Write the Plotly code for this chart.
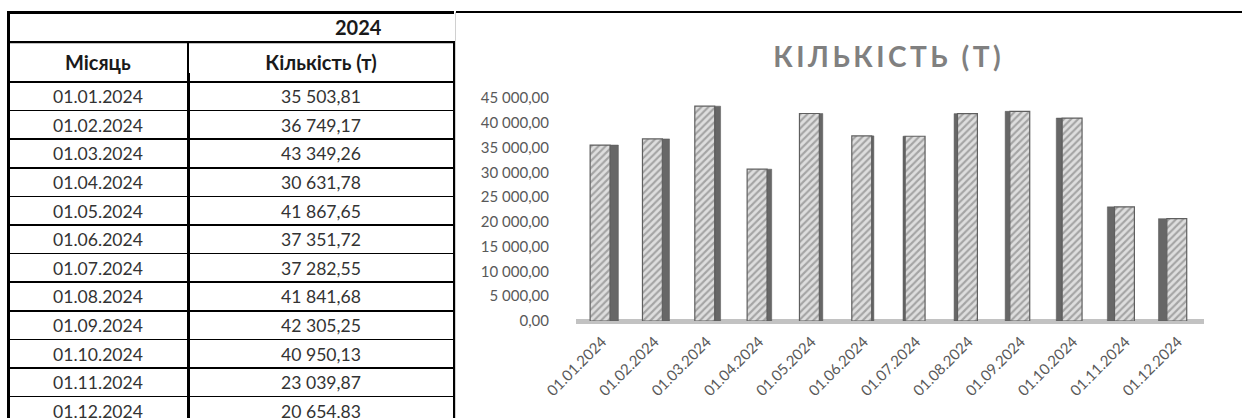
import plotly.graph_objects as go

# ---- data ----
months = ["01.01.2024", "01.02.2024", "01.03.2024", "01.04.2024", "01.05.2024", "01.06.2024",
          "01.07.2024", "01.08.2024", "01.09.2024", "01.10.2024", "01.11.2024", "01.12.2024"]
quantities = [35503.81, 36749.17, 43349.26, 30631.78, 41867.65, 37351.72,
              37282.55, 41841.68, 42305.25, 40950.13, 23039.87, 20654.83]
year_label = "2024"
col_headers = ["Місяць", "Кількість (т)"]
chart_title = "КІЛЬКІСТЬ (Т)"

W, H = 1242, 418

def px_x(p):
    return p / W

def px_y(p):
    return 1 - p / H

def fmt(v):
    return f"{v:,.2f}".replace(",", " ").replace(".", ",")

fig = go.Figure()

# ---- table ----
fig.add_trace(go.Table(
    domain=dict(x=[px_x(8), px_x(454)], y=[0, px_y(42)]),
    columnwidth=[180, 266],
    header=dict(values=[f"<b>{h}</b>" for h in col_headers],
                height=31, align="center", fill_color="white",
                line=dict(color="black", width=1.5),
                font=dict(family="Lato", size=20, color="#1a1a1a")),
    cells=dict(values=[months, [fmt(v) for v in quantities]],
               height=28.6, align="center", fill_color="white",
               line=dict(color="black", width=1.5),
               font=dict(family="Lato", size=17.6, color="#333333")),
))

# ---- 3D-looking bars ----
n = len(months)
mid = (n - 1) / 2
front_w = 0.38
side_w = [0.03 + 0.13 * abs(i - mid) / mid for i in range(n)]
side_off = [front_w / 2 - 0.04 if i < mid else -front_w / 2 - side_w[i] - 0.02 for i in range(n)]
front_off = [-front_w / 2 - 0.04 if i < mid else -front_w / 2 - 0.02 for i in range(n)]

fig.add_trace(go.Bar(
    x=months, y=quantities, width=side_w, offset=side_off,
    marker=dict(color="#676767", line=dict(color="#555555", width=0.5)),
    hoverinfo="skip", showlegend=False,
))
fig.add_trace(go.Bar(
    x=months, y=quantities, width=front_w, offset=front_off,
    marker=dict(color="#dadada",
                pattern=dict(shape="/", fgcolor="#6a6a6a", bgcolor="#dedede",
                             size=5, solidity=0.42),
                line=dict(color="#5f5f5f", width=1.2)),
    showlegend=False,
))

tick_font = dict(family="Lato", size=15, color="#595959")
fig.update_layout(
    width=W, height=H,
    margin=dict(l=0, r=0, t=0, b=0, pad=0, autoexpand=False),
    paper_bgcolor="white", plot_bgcolor="white",
    barmode="overlay",
    separators=", ",
    showlegend=False,
    title=dict(text="<b>" + "\u2009".join(chart_title) + "</b>",
               x=px_x(887), xanchor="center", y=px_y(57), yanchor="middle",
               font=dict(family="Lato", size=28, color="#808080")),
    xaxis=dict(domain=[px_x(576), px_x(1204)], range=[-0.5, n - 0.5],
               type="category", showgrid=False, showline=False, ticks="",
               tickangle=-45, tickfont=tick_font, ticklabelstandoff=8,
               automargin=False),
    yaxis=dict(domain=[px_y(321), px_y(98)], range=[0, 45000],
               dtick=5000, tickformat=",.2f", showgrid=False, showline=False,
               ticks="", tickfont=tick_font, ticklabelstandoff=26,
               zeroline=True, zerolinecolor="#c2c2c2", zerolinewidth=5,
               automargin=False),
    annotations=[dict(text=f"<b>{year_label}</b>", xref="paper", yref="paper",
                      x=px_x(358), y=px_y(27), xanchor="center", yanchor="middle",
                      showarrow=False, font=dict(family="Lato", size=20, color="#1a1a1a"))],
)

# borders (decoration)
line_shapes = [
    (7, 12.5, 454, 12.5, 3, "black"),        # table top
    (8.5, 12, 8.5, 418, 3, "black"),         # table left
    (7, 42.5, 454, 42.5, 1.5, "black"),      # under year row
    (188.5, 73, 188.5, 418, 3, "black"),     # column divider in data rows
    (456, 12, 1242, 12, 2, "black"),         # chart top
    (455.5, 12, 455.5, 418, 1, "#d0d0d0"),   # chart left
]
for x0, y0, x1, y1, w, c in line_shapes:
    fig.add_shape(type="line", xref="paper", yref="paper",
                  x0=px_x(x0), y0=px_y(y0), x1=px_x(x1), y1=px_y(y1),
                  line=dict(color=c, width=w), layer="above")

fig.write_html("out.html")
